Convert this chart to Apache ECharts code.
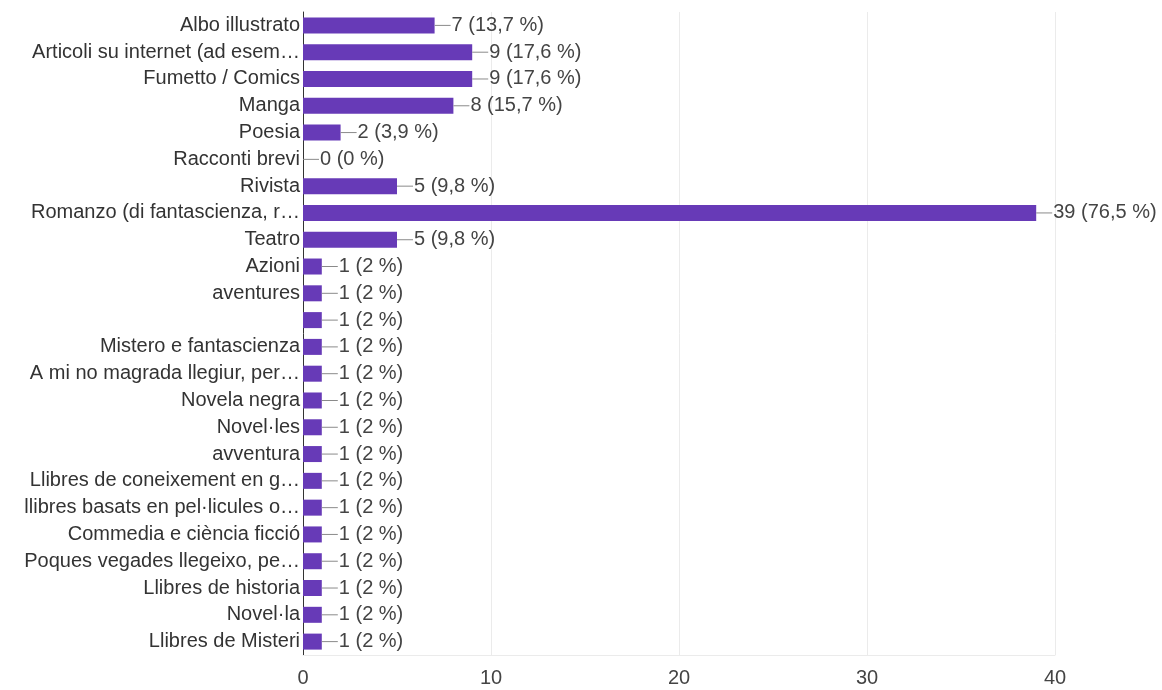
<!DOCTYPE html>
<html>
<head>
<meta charset="utf-8">
<script src="https://cdn.jsdelivr.net/npm/echarts@6/dist/echarts.min.js"></script>
<style>html,body{margin:0;padding:0;background:#fff}#c{width:1162px;height:690px}</style>
</head>
<body>
<div id="c"></div>
<script>
const categories = [
  "Albo illustrato",
  "Articoli su internet (ad esem\u2026",
  "Fumetto / Comics",
  "Manga",
  "Poesia",
  "Racconti brevi",
  "Rivista",
  "Romanzo (di fantascienza, r\u2026",
  "Teatro",
  "Azioni",
  "aventures",
  "",
  "Mistero e fantascienza",
  "A mi no magrada llegiur, per\u2026",
  "Novela negra",
  "Novel\u00b7les",
  "avventura",
  "Llibres de coneixement en g\u2026",
  "llibres basats en pel\u00b7licules o\u2026",
  "Commedia e ci\u00e8ncia ficci\u00f3",
  "Poques vegades llegeixo, pe\u2026",
  "Llibres de historia",
  "Novel\u00b7la",
  "Llibres de Misteri"
];
const values = [7, 9, 9, 8, 2, 0, 5, 39, 5, 1, 1, 1, 1, 1, 1, 1, 1, 1, 1, 1, 1, 1, 1, 1];
const percents = ["13,7 %", "17,6 %", "17,6 %", "15,7 %", "3,9 %", "0 %", "9,8 %", "76,5 %", "9,8 %",
  "2 %", "2 %", "2 %", "2 %", "2 %", "2 %", "2 %", "2 %", "2 %", "2 %", "2 %", "2 %", "2 %", "2 %", "2 %"];
const xTicks = [0, 10, 20, 30, 40];

const chart = echarts.init(document.getElementById('c'), null, {renderer: 'canvas'});
const font = 'Arial, "Liberation Sans", sans-serif';
chart.setOption({
  animation: false,
  grid: {left: 303, right: 107, top: 12, bottom: 35, containLabel: false},
  xAxis: {
    type: 'value', min: xTicks[0], max: xTicks[xTicks.length - 1], interval: 10,
    axisLine: {show: true, lineStyle: {color: '#ebebeb', width: 1}},
    axisTick: {show: false},
    splitLine: {show: true, lineStyle: {color: '#ebebeb', width: 1}},
    axisLabel: {color: '#444', fontSize: 20, fontFamily: font, margin: 13}
  },
  yAxis: {
    type: 'category', data: categories, inverse: true,
    axisLine: {show: true, lineStyle: {color: '#333', width: 1}},
    axisTick: {show: false},
    splitLine: {show: false},
    axisLabel: {color: '#333', fontSize: 20, fontFamily: font, margin: 3, interval: 0}
  },
  series: [{
    type: 'bar',
    data: values,
    barWidth: 16,
    itemStyle: {color: '#673ab7'},
    label: {
      show: true, position: 'right', distance: 0,
      formatter: p => '{l|}{t|' + values[p.dataIndex] + ' (' + percents[p.dataIndex] + ')}',
      rich: {
        l: {width: 16, height: 1, backgroundColor: '#8a8a8a'},
        t: {color: '#444', fontSize: 20, fontFamily: font, padding: [0, 0, 0, 1]}
      }
    }
  }]
});
</script>
</body>
</html>
